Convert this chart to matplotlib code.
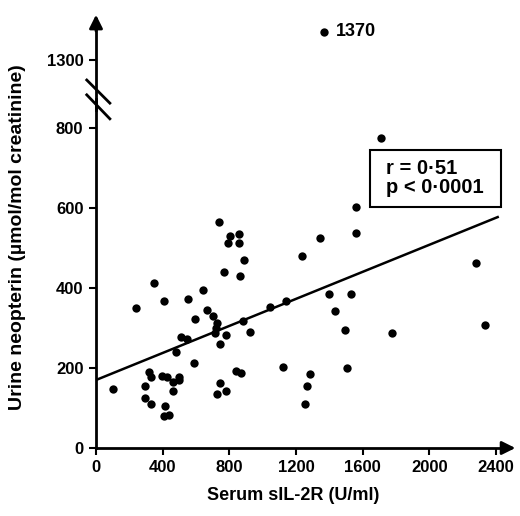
import numpy as np
import matplotlib.pyplot as plt
from matplotlib.patches import Rectangle

plt.rcParams['font.family'] = ['Liberation Sans', 'DejaVu Sans']
plt.rcParams['font.weight'] = 'bold'
plt.rcParams['axes.labelweight'] = 'bold'

# serum sIL-2R (U/ml) vs urine neopterin (umol/mol creatinine)
sil2r = [740, 806, 858, 794, 858, 886, 770, 866, 1236, 348, 240, 410, 554, 644,
         668, 704, 724, 720, 714, 778, 744, 592, 508, 544, 880, 924, 1046, 1138,
         482, 590, 320, 330, 398, 428, 500, 500, 460, 464, 294, 104, 294, 330,
         412, 408, 438, 838, 870, 744, 724, 778, 1120, 1284, 1268, 1254,
         1712, 1560, 1560, 1344, 2280, 1398, 1530, 1436, 1496, 1776, 2334, 1504,
         1366]
neopterin = [564, 530, 535, 512, 512, 470, 439, 431, 481, 413, 349, 367, 372, 394,
             344, 330, 312, 299, 288, 283, 261, 322, 277, 272, 317, 291, 352, 367,
             239, 212, 190, 177, 181, 177, 177, 169, 164, 143, 155, 148, 126, 110,
             106, 80, 83, 192, 188, 162, 136, 143, 203, 184, 154, 109,
             774, 602, 537, 526, 463, 385, 385, 343, 294, 287, 308, 199,
             1370]
fit_intercept = 170
fit_slope = 0.169
xticks = [0, 400, 800, 1200, 1600, 2000, 2400]
yticks = [0, 200, 400, 600, 800, 1300]


def fwd(y):
    y = np.asarray(y, dtype=float)
    return np.where(y <= 850, y, np.where(y < 1200, 850 + (y - 850) * 20 / 350, y - 330))


def inv(t):
    t = np.asarray(t, dtype=float)
    return np.where(t <= 850, t, np.where(t < 870, 850 + (t - 850) * 350 / 20, t + 330))


fig = plt.figure(figsize=(5.2, 5.16), dpi=100)
ax = fig.add_axes([96 / 520, 68 / 516, 420 / 520, 436 / 516])
ax.set_yscale('function', functions=(fwd, inv))

ax.scatter(sil2r, neopterin, s=36, color='black', zorder=3, linewidths=0)
fx = np.array([0, 2410])
ax.plot(fx, fit_intercept + fit_slope * fx, color='black', lw=1.8)

ax.set_xlim(0, 2520)
ax.set_ylim(0, 1420)
ax.set_xticks(xticks)
ax.set_yticks(yticks)
ax.tick_params(direction='out', length=5, width=1.5, labelsize=12, pad=4)
for s in ax.spines.values():
    s.set_visible(False)

# axes with arrows and a break in the y axis
k = dict(transform=ax.transAxes, color='black', lw=2, clip_on=False)
ax.plot([0, 0.985], [0, 0], **k)
ax.plot([0, 0], [0, 0.8], **k)
ax.plot([0, 0], [0.775, 0.985], **k)
ax.plot([-0.022, 0.033], [0.844, 0.791], **k)
ax.plot([-0.022, 0.033], [0.810, 0.755], **k)
ax.annotate('', xy=(1.005, 0), xytext=(0.96, 0), xycoords='axes fraction',
            arrowprops=dict(arrowstyle='-|>', color='black', lw=2, mutation_scale=20))
ax.annotate('', xy=(0, 1.0), xytext=(0, 0.95), xycoords='axes fraction',
            arrowprops=dict(arrowstyle='-|>', color='black', lw=2, mutation_scale=20))

ax.text(1440, 1370, '1370', fontsize=13, va='center', ha='left')
ax.add_patch(Rectangle((1644, 603), 786, 142, fc='white', ec='black', lw=1.5, zorder=4))
ax.text(1740, 674, 'r = 0·51\np < 0·0001', fontsize=14.5, va='center', ha='left',
        linespacing=1.0, zorder=5)

ax.set_xlabel('Serum sIL-2R (U/ml)', fontsize=13)
ax.xaxis.set_label_coords(0.469, -0.089)
ax.set_ylabel('Urine neopterin (µmol/mol creatinine)', fontsize=14)
ax.yaxis.set_label_coords(-0.167, 0.484)

fig.savefig('out.png', dpi=100)
